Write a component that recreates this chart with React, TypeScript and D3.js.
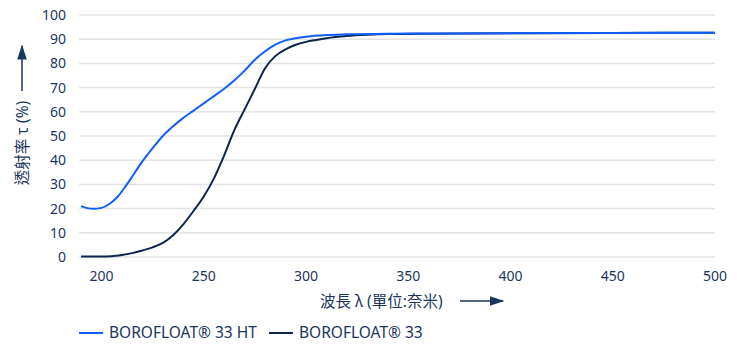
import React, { useEffect, useRef } from 'react';
import * as d3 from 'd3';

const yTicks = [0, 10, 20, 30, 40, 50, 60, 70, 80, 90, 100];
const xTicks = [200, 250, 300, 350, 400, 450, 500];

const seriesNames = ['BOROFLOAT® 33 HT', 'BOROFLOAT® 33'];

const htWave = [190, 193, 196, 200, 204, 208, 212, 216, 220, 225, 230, 235, 240, 245, 250, 255, 260, 265, 270, 275, 280, 285, 290, 295, 300, 310, 320, 340, 360, 400, 450, 500];
const htValue = [21, 20.2, 19.9, 20.3, 22, 25, 29.5, 34.5, 39.5, 45, 50, 54, 57.5, 60.5, 63.5, 66.5, 69.5, 73, 77, 81.5, 85, 87.8, 89.5, 90.4, 91, 91.7, 92, 92.3, 92.4, 92.5, 92.6, 92.7];

const stdWave = [190, 200, 205, 210, 215, 220, 225, 230, 235, 240, 245, 250, 255, 260, 265, 270, 275, 280, 285, 290, 295, 300, 305, 310, 320, 330, 340, 360, 400, 450, 500];
const stdValue = [0.2, 0.2, 0.3, 0.8, 1.6, 2.7, 4, 5.8, 9, 13.5, 19, 25, 32.5, 42, 52.5, 61, 69.5, 78, 83, 85.8, 87.7, 88.9, 89.7, 90.4, 91.3, 91.8, 92.1, 92.3, 92.5, 92.6, 92.7];

const colors = ['#0f5fff', '#0b2550'];
const textColor = '#1b365d';
const font = '"Noto Sans", "Noto Sans CJK TC", sans-serif';

export default function App() {
  const ref = useRef<SVGSVGElement>(null);

  useEffect(() => {
    const svg = d3.select(ref.current);
    svg.selectAll('*').remove();

    const x = d3.scaleLinear().domain([189, 500]).range([79, 715]);
    const y = d3.scaleLinear().domain([0, 100]).range([257, 15]);

    // grid
    svg
      .append('g')
      .selectAll('line')
      .data(yTicks)
      .join('line')
      .attr('x1', x.range()[0])
      .attr('x2', x.range()[1])
      .attr('y1', (d) => y(d))
      .attr('y2', (d) => y(d))
      .attr('stroke', '#e3e3e3')
      .attr('stroke-width', 1.5);

    // y labels
    svg
      .append('g')
      .attr('font-family', font)
      .attr('font-size', 14)
      .attr('fill', textColor)
      .attr('text-anchor', 'end')
      .selectAll('text')
      .data(yTicks)
      .join('text')
      .attr('x', 66)
      .attr('y', (d) => y(d))
      .attr('dy', '0.35em')
      .text((d) => d);

    // x labels
    svg
      .append('g')
      .attr('font-family', font)
      .attr('font-size', 14)
      .attr('fill', textColor)
      .attr('text-anchor', 'middle')
      .selectAll('text')
      .data(xTicks)
      .join('text')
      .attr('x', (d) => x(d))
      .attr('y', 281)
      .text((d) => d);

    const defs = svg.append('defs');
    defs
      .append('marker')
      .attr('id', 'arrow')
      .attr('viewBox', '0 0 10 10')
      .attr('refX', 9)
      .attr('refY', 5)
      .attr('markerWidth', 15)
      .attr('markerHeight', 15)
      .attr('markerUnits', 'userSpaceOnUse')
      .attr('orient', 'auto')
      .append('path')
      .attr('d', 'M0,1.8 L10,5 L0,8.2 Z')
      .attr('fill', textColor);

    // x title
    svg
      .append('text')
      .attr('x', 320)
      .attr('y', 307)
      .attr('font-family', font)
      .attr('font-size', 15.5)
      .attr('fill', textColor)
      .text('波長 λ (單位:奈米)');
    svg
      .append('line')
      .attr('x1', 460)
      .attr('x2', 503)
      .attr('y1', 301)
      .attr('y2', 301)
      .attr('stroke', textColor)
      .attr('stroke-width', 1.5)
      .attr('marker-end', 'url(#arrow)');

    // y title
    svg
      .append('text')
      .attr('transform', 'translate(27.5,143) rotate(-90)')
      .attr('text-anchor', 'middle')
      .attr('font-family', font)
      .attr('font-size', 15.5)
      .attr('fill', textColor)
      .text('透射率 τ (%)');
    svg
      .append('line')
      .attr('x1', 22)
      .attr('x2', 22)
      .attr('y1', 91)
      .attr('y2', 46)
      .attr('stroke', textColor)
      .attr('stroke-width', 1.5)
      .attr('marker-end', 'url(#arrow)');

    // lines
    const line = d3
      .line<[number, number]>()
      .x((d) => x(d[0]))
      .y((d) => y(d[1]))
      .curve(d3.curveMonotoneX);

    const series = [
      d3.zip(stdWave, stdValue) as [number, number][],
      d3.zip(htWave, htValue) as [number, number][],
    ];
    const seriesColors = [colors[1], colors[0]];
    series.forEach((s, i) => {
      svg
        .append('path')
        .datum(s)
        .attr('d', line)
        .attr('fill', 'none')
        .attr('stroke', seriesColors[i])
        .attr('stroke-width', 2);
    });

    // legend
    const legendX = [79, 269];
    const legend = svg
      .append('g')
      .selectAll('g')
      .data(seriesNames)
      .join('g')
      .attr('transform', (d, i) => `translate(${legendX[i]},333)`);
    legend
      .append('line')
      .attr('x1', 0)
      .attr('x2', 24)
      .attr('stroke', (d, i) => colors[i])
      .attr('stroke-width', 2);
    legend
      .append('text')
      .attr('x', 30)
      .attr('dy', '0.35em')
      .attr('font-family', font)
      .attr('font-size', 15.5)
      .attr('fill', textColor)
      .text((d) => d);
  }, []);

  return (
    <svg
      ref={ref}
      width={742}
      height={344}
      style={{ position: 'absolute', left: 0, top: 0, background: '#fff' }}
    />
  );
}
